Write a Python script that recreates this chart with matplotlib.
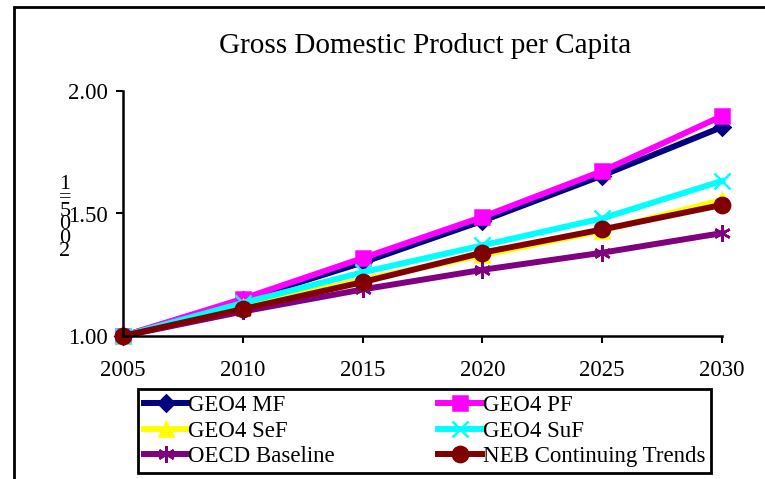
import numpy as np
import matplotlib
matplotlib.use('Agg')
import matplotlib.pyplot as plt
from matplotlib.patches import Rectangle

plt.rcParams['font.family'] = ['Liberation Serif', 'DejaVu Serif']

# GDP per capita index (2005 = 1)
years = [2005, 2010, 2015, 2020, 2025, 2030]
geo4_mf = [1.00, 1.147, 1.30, 1.47, 1.655, 1.853]
geo4_pf = [1.00, 1.152, 1.318, 1.486, 1.673, 1.898]
geo4_sef = [1.00, 1.12, 1.23, 1.33, 1.43, 1.555]
geo4_suf = [1.00, 1.135, 1.26, 1.37, 1.48, 1.633]
oecd = [1.00, 1.10, 1.19, 1.27, 1.34, 1.42]
neb = [1.00, 1.11, 1.22, 1.34, 1.435, 1.535]

series = [
    ('GEO4 MF', geo4_mf, '#000080', 'D', 8),
    ('GEO4 PF', geo4_pf, '#FF00FF', 's', 10),
    ('GEO4 SeF', geo4_sef, '#FFFF00', '^', 10),
    ('GEO4 SuF', geo4_suf, '#00FFFF', 'x', 11),
    ('OECD Baseline', oecd, '#800080', (6, 2, 0), 12),
    ('NEB Continuing Trends', neb, '#800000', 'o', 11),
]

W, H = 765, 479
fig = plt.figure(figsize=(W / 100, H / 100), dpi=100)
ax = fig.add_axes([123 / W, 1 - 336 / H, (722 - 123) / W, (336 - 91) / H])

lines = []
for name, vals, col, mk, ms in series:
    ln, = ax.plot(years, vals, color=col, lw=4.3, marker=mk, markersize=ms,
                  markeredgewidth=1.8, label=name, clip_on=False)
    lines.append(ln)

ax.set_xlim(2005, 2030)
ax.set_ylim(1.0, 2.0)
ax.set_xticks(years)
ax.set_yticks([1.0, 1.5, 2.0])
ax.set_yticklabels(['%.2f' % v for v in [1.0, 1.5, 2.0]])
ax.tick_params(labelsize=16.5, width=1.5, length=5, direction='out', pad=6)
ax.tick_params(axis='x', pad=12)
for s in ['top', 'right']:
    ax.spines[s].set_visible(False)
for s in ['left', 'bottom']:
    ax.spines[s].set_linewidth(1.8)

fig.text(425 / W, 1 - 46 / H, 'Gross Domestic Product per Capita',
         fontsize=21, ha='center', va='center')

# stacked y label
fig.text(65 / W, 1 - 218 / H, '1\n=\n5\n0\n0\n2', fontsize=16,
         ha='center', va='center', linespacing=0.6)

# row-wise ordering for a 2-column legend
order = [0, 2, 4, 1, 3, 5]
leg = fig.legend([lines[i] for i in order], [series[i][0] for i in order],
                 loc='lower left', ncol=2, mode='expand',
                 bbox_to_anchor=(138 / W, 1 - 473 / H, (711 - 138) / W, (473 - 393) / H),
                 borderaxespad=0, fontsize=16.5, fancybox=False, framealpha=1,
                 edgecolor='black', handlelength=1.9, handletextpad=0.05,
                 labelspacing=0.2, borderpad=0.25, columnspacing=1.0)
leg.get_frame().set_linewidth(2)

fig.patches.append(Rectangle((14 / W, -0.1), 1.2, 1 - 7 / H + 0.1, fill=False,
                             lw=2, edgecolor='black', transform=fig.transFigure))

fig.savefig('out.png', dpi=100)
